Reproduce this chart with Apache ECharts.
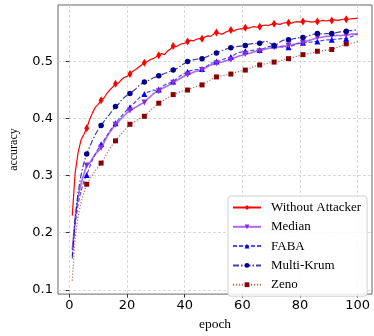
<!DOCTYPE html>
<html>
<head>
<meta charset="utf-8">
<script src="https://cdn.jsdelivr.net/npm/echarts@6/dist/echarts.min.js"></script>
<style>
  html, body { margin: 0; padding: 0; background: #fff; }
  #chart { width: 374px; height: 336px; }
</style>
</head>
<body>
<div id="chart"></div>
<script>
// accuracy per epoch (1..100)
var withoutAttacker = [
  0.230, 0.305, 0.340, 0.362, 0.372, 0.383, 0.398, 0.410, 0.420, 0.425,
  0.432, 0.436, 0.444, 0.450, 0.455, 0.461, 0.462, 0.468, 0.472, 0.474,
  0.478, 0.483, 0.486, 0.490, 0.494, 0.498, 0.500, 0.503, 0.505, 0.508,
  0.511, 0.514, 0.512, 0.518, 0.522, 0.527, 0.526, 0.529, 0.531, 0.532,
  0.535, 0.537, 0.536, 0.539, 0.540, 0.540, 0.543, 0.545, 0.544, 0.548,
  0.551, 0.549, 0.548, 0.551, 0.553, 0.555, 0.553, 0.556, 0.557, 0.557,
  0.559, 0.558, 0.560, 0.561, 0.560, 0.561, 0.563, 0.564, 0.563, 0.565,
  0.566, 0.566, 0.565, 0.567, 0.568, 0.568, 0.567, 0.569, 0.570, 0.569,
  0.570, 0.571, 0.570, 0.569, 0.570, 0.570, 0.571, 0.572, 0.571, 0.572,
  0.572, 0.573, 0.572, 0.573, 0.574, 0.574, 0.574, 0.575, 0.575, 0.576
];
var median = [
  0.170, 0.225, 0.262, 0.285, 0.303, 0.318, 0.322, 0.330, 0.338, 0.343,
  0.349, 0.358, 0.368, 0.376, 0.383, 0.389, 0.394, 0.400, 0.405, 0.410,
  0.414, 0.417, 0.420, 0.423, 0.426, 0.428, 0.434, 0.438, 0.443, 0.446,
  0.448, 0.452, 0.455, 0.457, 0.460, 0.463, 0.466, 0.469, 0.472, 0.475,
  0.477, 0.479, 0.481, 0.483, 0.484, 0.485, 0.488, 0.491, 0.494, 0.495,
  0.497, 0.498, 0.499, 0.501, 0.502, 0.503, 0.506, 0.508, 0.510, 0.511,
  0.513, 0.514, 0.515, 0.517, 0.518, 0.518, 0.520, 0.522, 0.523, 0.524,
  0.525, 0.525, 0.526, 0.527, 0.527, 0.528, 0.529, 0.530, 0.532, 0.532,
  0.533, 0.535, 0.537, 0.538, 0.540, 0.542, 0.542, 0.543, 0.544, 0.544,
  0.545, 0.545, 0.546, 0.545, 0.546, 0.546, 0.547, 0.548, 0.548, 0.549
];
var faba = [
  0.160, 0.215, 0.250, 0.272, 0.290, 0.301, 0.315, 0.328, 0.338, 0.347,
  0.355, 0.362, 0.370, 0.378, 0.385, 0.392, 0.398, 0.404, 0.410, 0.415,
  0.420, 0.425, 0.430, 0.435, 0.440, 0.443, 0.446, 0.448, 0.450, 0.449,
  0.451, 0.455, 0.459, 0.461, 0.463, 0.465, 0.469, 0.473, 0.477, 0.479,
  0.482, 0.484, 0.485, 0.486, 0.486, 0.487, 0.490, 0.493, 0.497, 0.498,
  0.500, 0.501, 0.503, 0.505, 0.506, 0.508, 0.511, 0.514, 0.516, 0.517,
  0.518, 0.518, 0.519, 0.520, 0.520, 0.520, 0.522, 0.524, 0.526, 0.527,
  0.528, 0.527, 0.526, 0.525, 0.525, 0.525, 0.527, 0.529, 0.531, 0.532,
  0.533, 0.533, 0.534, 0.534, 0.535, 0.535, 0.536, 0.537, 0.538, 0.538,
  0.538, 0.539, 0.539, 0.540, 0.540, 0.540, 0.542, 0.544, 0.546, 0.548
];
var multiKrum = [
  0.155, 0.225, 0.270, 0.300, 0.322, 0.338, 0.350, 0.362, 0.372, 0.381,
  0.388, 0.395, 0.402, 0.408, 0.415, 0.421, 0.425, 0.432, 0.437, 0.441,
  0.444, 0.448, 0.452, 0.457, 0.461, 0.464, 0.466, 0.468, 0.471, 0.473,
  0.475, 0.477, 0.479, 0.481, 0.483, 0.485, 0.487, 0.490, 0.494, 0.497,
  0.500, 0.502, 0.503, 0.504, 0.505, 0.505, 0.507, 0.509, 0.512, 0.514,
  0.515, 0.517, 0.519, 0.521, 0.523, 0.524, 0.525, 0.526, 0.527, 0.527,
  0.528, 0.530, 0.531, 0.532, 0.532, 0.532, 0.534, 0.536, 0.534, 0.531,
  0.528, 0.530, 0.534, 0.537, 0.538, 0.538, 0.539, 0.540, 0.541, 0.542,
  0.542, 0.543, 0.545, 0.547, 0.548, 0.549, 0.549, 0.548, 0.549, 0.549,
  0.549, 0.550, 0.551, 0.552, 0.553, 0.553, 0.554, 0.554, 0.555, 0.555
];
var zeno = [
  0.116, 0.190, 0.228, 0.252, 0.270, 0.285, 0.293, 0.301, 0.309, 0.315,
  0.322, 0.330, 0.339, 0.347, 0.355, 0.361, 0.367, 0.373, 0.379, 0.385,
  0.390, 0.393, 0.396, 0.399, 0.402, 0.404, 0.409, 0.414, 0.418, 0.423,
  0.427, 0.430, 0.433, 0.436, 0.439, 0.442, 0.444, 0.446, 0.448, 0.449,
  0.450, 0.452, 0.454, 0.456, 0.458, 0.459, 0.462, 0.465, 0.468, 0.471,
  0.473, 0.474, 0.475, 0.476, 0.477, 0.478, 0.480, 0.481, 0.483, 0.484,
  0.485, 0.487, 0.489, 0.491, 0.493, 0.494, 0.495, 0.496, 0.497, 0.498,
  0.499, 0.500, 0.501, 0.503, 0.504, 0.505, 0.506, 0.508, 0.509, 0.511,
  0.512, 0.513, 0.514, 0.515, 0.516, 0.518, 0.518, 0.519, 0.520, 0.520,
  0.521, 0.523, 0.525, 0.527, 0.529, 0.531, 0.531, 0.532, 0.533, 0.535
];
var xTicks = [0, 20, 40, 60, 80, 100];
var yTicks = [0.1, 0.2, 0.3, 0.4, 0.5];

var chart = echarts.init(document.getElementById('chart'), null, { renderer: 'canvas' });

// markers only every 5th epoch (6, 11, 16, ...)
function pts(arr) {
  return arr.map(function (v, i) {
    if (i > 0 && i % 5 === 0) return [i + 1, v];
    return { value: [i + 1, v], symbol: 'none' };
  });
}

var thinDiamond = 'path://M0,-1.4L0.7,0L0,1.4L-0.7,0Z';
var serif = 'Liberation Serif';
var sans = 'DejaVu Sans';

function line(name, arr, color, lineColor, type, width, symbol, size, rotate) {
  return {
    name: name,
    type: 'line',
    data: pts(arr),
    showAllSymbol: true,
    symbol: symbol,
    symbolSize: size,
    symbolRotate: rotate || 0,
    itemStyle: { color: color },
    lineStyle: { color: lineColor, width: width, type: type },
    z: 3
  };
}

chart.setOption({
  animation: false,
  backgroundColor: '#fff',
  grid: {
    left: 41, right: 2, top: 5, bottom: 34,
    show: true, borderColor: '#666', borderWidth: 1
  },
  xAxis: {
    type: 'value',
    min: -3.95, max: 104.95,
    name: 'epoch',
    nameLocation: 'middle',
    nameGap: 22,
    nameTextStyle: { fontFamily: serif, fontSize: 13.5, color: '#000' },
    axisLine: { show: false },
    axisTick: { show: true, inside: false, length: 3.5, customValues: xTicks, lineStyle: { color: '#333' } },
    axisLabel: { customValues: xTicks, fontFamily: sans, fontSize: 13, color: '#000', margin: 5 },
    splitLine: { show: true, lineStyle: { color: '#cfcfcf', type: [3, 2], width: 0.8 } }
  },
  yAxis: {
    type: 'value',
    min: 0.0925, max: 0.599,
    name: 'accuracy',
    nameLocation: 'middle',
    nameGap: 38,
    nameTextStyle: { fontFamily: serif, fontSize: 12, color: '#000' },
    axisLine: { show: false },
    axisTick: { show: true, inside: false, length: 3.5, customValues: yTicks, lineStyle: { color: '#333' } },
    axisLabel: {
      customValues: yTicks, fontFamily: sans, fontSize: 13, color: '#000', margin: 5,
      formatter: function (v) { return v.toFixed(1); }
    },
    splitLine: { show: true, lineStyle: { color: '#cfcfcf', type: [3, 2], width: 0.8 } }
  },
  legend: {
    orient: 'vertical',
    left: 228, top: 196,
    padding: [5, 6, 5, 4],
    itemWidth: 28, itemHeight: 6, itemGap: 6.3,
    borderColor: '#d0d0d0', borderWidth: 1, borderRadius: 3,
    backgroundColor: 'rgba(255,255,255,0.85)',
    textStyle: { fontFamily: serif, fontSize: 13, color: '#000', padding: [0, 0, 0, 5] },
    data: ['Without Attacker', 'Median', 'FABA', 'Multi-Krum', 'Zeno']
  },
  series: [
    line('Zeno', zeno, '#8b0000', 'rgba(139,0,0,0.6)', [1.2, 1.8], 1.2, 'rect', 5),
    line('FABA', faba, '#0000ff', 'rgba(0,0,255,0.7)', [4, 2], 1.2, 'triangle', 6),
    line('Median', median, '#8a2be2', 'rgba(138,43,226,0.7)', 'solid', 1.6, 'triangle', 6, 180),
    line('Multi-Krum', multiKrum, '#00008b', 'rgba(0,0,139,0.75)', [6, 2, 1.5, 2], 1.2, 'circle', 5.5),
    line('Without Attacker', withoutAttacker, '#ff0000', '#ff0000', 'solid', 1.2, thinDiamond, [5, 8])
  ]
});
</script>
</body>
</html>
